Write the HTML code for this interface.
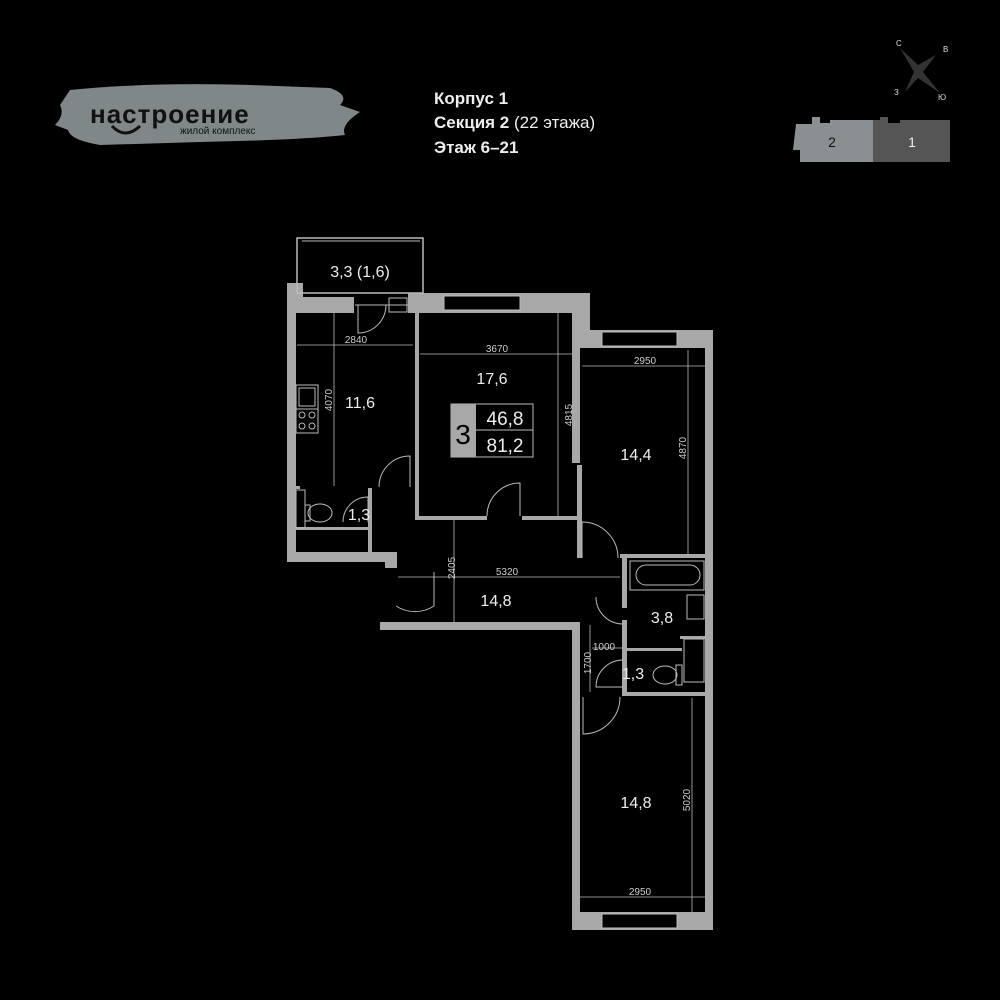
<!DOCTYPE html>
<html><head><meta charset="utf-8"><style>
html,body{margin:0;padding:0;background:#000;}
svg{display:block}
text{font-family:"Liberation Sans","DejaVu Sans",sans-serif;}
</style></head><body>
<svg width="1000" height="1000" viewBox="0 0 1000 1000" xmlns="http://www.w3.org/2000/svg">
<rect width="1000" height="1000" fill="#000"/>
<!-- logo brush -->
<path d="M70 90 Q150 82 250 85 L330 88 Q350 95 340 105 L360 112 Q340 125 345 135 Q300 140 200 142 L100 145 Q70 140 68 130 L55 125 Q65 115 60 105 Z" fill="#7f8789"/>
<text x="90" y="123" font-size="26" fill="#111" letter-spacing="1" font-weight="bold">настроение</text>
<text x="180" y="134" font-size="10" fill="#111">жилой комплекс</text>
<path d="M112 126 Q125 140 140 126" stroke="#111" stroke-width="3" fill="none"/>
<!-- header -->
<text x="434" y="104" font-size="17" fill="#eee" font-weight="bold">Корпус 1</text>
<text x="434" y="128" font-size="17" fill="#eee"><tspan font-weight="bold">Секция 2</tspan> (22 этажа)</text>
<text x="434" y="153" font-size="17" fill="#eee" font-weight="bold">Этаж 6–21</text>
<!-- compass -->
<path d="M900 48 L918 65 L936 55 L923 72 L940 93 L918 78 L905 92 L914 72 Z" fill="#333"/>
<text x="896" y="46" font-size="8" fill="#ddd">С</text>
<text x="943" y="52" font-size="8" fill="#ddd">В</text>
<text x="894" y="95" font-size="8" fill="#ddd">З</text>
<text x="938" y="100" font-size="8" fill="#ddd">Ю</text>
<!-- section map -->
<path d="M796 124 L812 124 L812 117 L820 117 L820 123 L830 123 L830 120 L873 120 L873 162 L800 162 L800 150 L793 150 Z" fill="#8a8f91"/>
<path d="M873 120 L880 120 L880 117 L888 117 L888 123 L900 123 L900 120 L950 120 L950 162 L873 162 Z" fill="#555"/>
<text x="832" y="147" font-size="14" fill="#111" text-anchor="middle">2</text>
<text x="912" y="147" font-size="14" fill="#eee" text-anchor="middle">1</text>

<g fill="#a8a8a8">
<rect x="287" y="283" width="9" height="279"/>
<rect x="287" y="283" width="16" height="30"/>
<rect x="287" y="297" width="67" height="16"/>
<rect x="408" y="293" width="182" height="20"/>
<rect x="572" y="293" width="18" height="55"/>
<rect x="572" y="330" width="141" height="18"/>
<rect x="705" y="330" width="8" height="600"/>
<rect x="415" y="313" width="4" height="207"/>
<rect x="415" y="516" width="72" height="4"/>
<rect x="522" y="516" width="55" height="4"/>
<rect x="572" y="313" width="8" height="150"/>
<rect x="577" y="465" width="5" height="93"/>
<rect x="287" y="486" width="13" height="3"/>
<rect x="287" y="552" width="110" height="10"/>
<rect x="385" y="552" width="12" height="16"/>
<rect x="368" y="488" width="4" height="64"/>
<rect x="296" y="527" width="72" height="3"/>
<rect x="380" y="622" width="198" height="8"/>
<rect x="572" y="622" width="8" height="308"/>
<rect x="572" y="912" width="141" height="18"/>
<rect x="620" y="554" width="90" height="4"/>
<rect x="622" y="558" width="5" height="50"/>
<rect x="622" y="620" width="5" height="75"/>
<rect x="622" y="648" width="60" height="3"/>
<rect x="622" y="692" width="88" height="4"/>
<rect x="680" y="636" width="28" height="3"/>
</g>
<g fill="#000" stroke="#bbb" stroke-width="1">
<rect x="444" y="296" width="76" height="14"/>
<rect x="602" y="332" width="75" height="14"/>
<rect x="602" y="914" width="75" height="14"/>
</g>
<rect x="297" y="238" width="126" height="55" fill="none" stroke="#bbb" stroke-width="1.5"/>
<line x1="302" y1="241" x2="420" y2="241" stroke="#bbb"/>
<rect x="389" y="298" width="18" height="14" fill="none" stroke="#bbb"/>
<line x1="355" y1="305" x2="408" y2="305" stroke="#bbb"/>
<!-- doors -->
<g fill="none" stroke="#bbb" stroke-width="1">
<path d="M358 305 L358 333 A28 28 0 0 0 386 305"/>
<path d="M410 487 L410 456 A31 31 0 0 0 379 487"/>
<path d="M520 516 L520 483 A33 33 0 0 0 487 516"/>
<path d="M582 558 L582 522 A36 36 0 0 1 618 558"/>
<path d="M368 522 L368 497 A25 25 0 0 0 343 522"/>
<path d="M434 572 L434 606 A35 35 0 0 1 396 606"/>
<path d="M596 597 A27 27 0 0 0 623 624"/>
<path d="M623 660 A27 27 0 0 0 596 687 L623 687"/>
<path d="M620 697 A37 37 0 0 1 583 734 L583 697"/>
</g>
<g fill="none" stroke="#bbb" stroke-width="1">
<rect x="296" y="385" width="22" height="24"/><rect x="299" y="388" width="16" height="18"/>
<rect x="296" y="409" width="22" height="24"/>
<circle cx="302" cy="415" r="3"/><circle cx="312" cy="415" r="3"/><circle cx="302" cy="426" r="3"/><circle cx="312" cy="426" r="3"/>
<ellipse cx="320" cy="513" rx="12" ry="9"/><rect x="305" y="505" width="5" height="16"/>
<rect x="296" y="490" width="9" height="38"/>
<rect x="630" y="561" width="74" height="29"/><rect x="636" y="565" width="64" height="20" rx="10"/>
<rect x="687" y="595" width="17" height="24"/>
<ellipse cx="665" cy="675" rx="12" ry="9"/><rect x="676" y="665" width="6" height="20"/>
<rect x="684" y="639" width="20" height="43"/>
</g>
<g stroke="#bbb" stroke-width="0.8">
<line x1="297" y1="345" x2="413" y2="345"/>
<line x1="334" y1="313" x2="334" y2="486"/>
<line x1="420" y1="354" x2="572" y2="354"/>
<line x1="558" y1="313" x2="558" y2="516"/>
<line x1="582" y1="366" x2="705" y2="366"/>
<line x1="688" y1="350" x2="688" y2="554"/>
<line x1="398" y1="577" x2="620" y2="577"/>
<line x1="454" y1="520" x2="454" y2="622"/>
<line x1="592" y1="648" x2="622" y2="648"/>
<line x1="590" y1="625" x2="590" y2="692"/>
<line x1="580" y1="897" x2="705" y2="897"/>
<line x1="692" y1="698" x2="692" y2="912"/>
</g>
<g font-size="10" fill="#ccc" text-anchor="middle">
<text x="356" y="343">2840</text>
<text x="497" y="352">3670</text>
<text x="645" y="364">2950</text>
<text x="507" y="575">5320</text>
<text x="604" y="650">1000</text>
<text x="640" y="895">2950</text>
<text transform="translate(332,400) rotate(-90)">4070</text>
<text transform="translate(572,415) rotate(-90)">4815</text>
<text transform="translate(686,448) rotate(-90)">4870</text>
<text transform="translate(455,568) rotate(-90)">2405</text>
<text transform="translate(591,663) rotate(-90)">1700</text>
<text transform="translate(690,800) rotate(-90)">5020</text>
</g>
<g font-size="16" fill="#eee" text-anchor="middle">
<text x="360" y="277">3,3 (1,6)</text>
<text x="360" y="408">11,6</text>
<text x="492" y="384">17,6</text>
<text x="636" y="460">14,4</text>
<text x="359" y="520">1,3</text>
<text x="496" y="606">14,8</text>
<text x="662" y="623">3,8</text>
<text x="633" y="679">1,3</text>
<text x="636" y="808">14,8</text>
</g>
<rect x="451" y="404" width="82" height="53" fill="none" stroke="#bbb"/>
<rect x="451" y="404" width="25" height="53" fill="#a8a8a8"/>
<line x1="476" y1="430" x2="533" y2="430" stroke="#bbb"/>
<text x="463" y="444" font-size="28" fill="#000" text-anchor="middle">3</text>
<text x="505" y="425" font-size="19" fill="#eee" text-anchor="middle">46,8</text>
<text x="505" y="452" font-size="19" fill="#eee" text-anchor="middle">81,2</text>
</svg>
</body></html>
